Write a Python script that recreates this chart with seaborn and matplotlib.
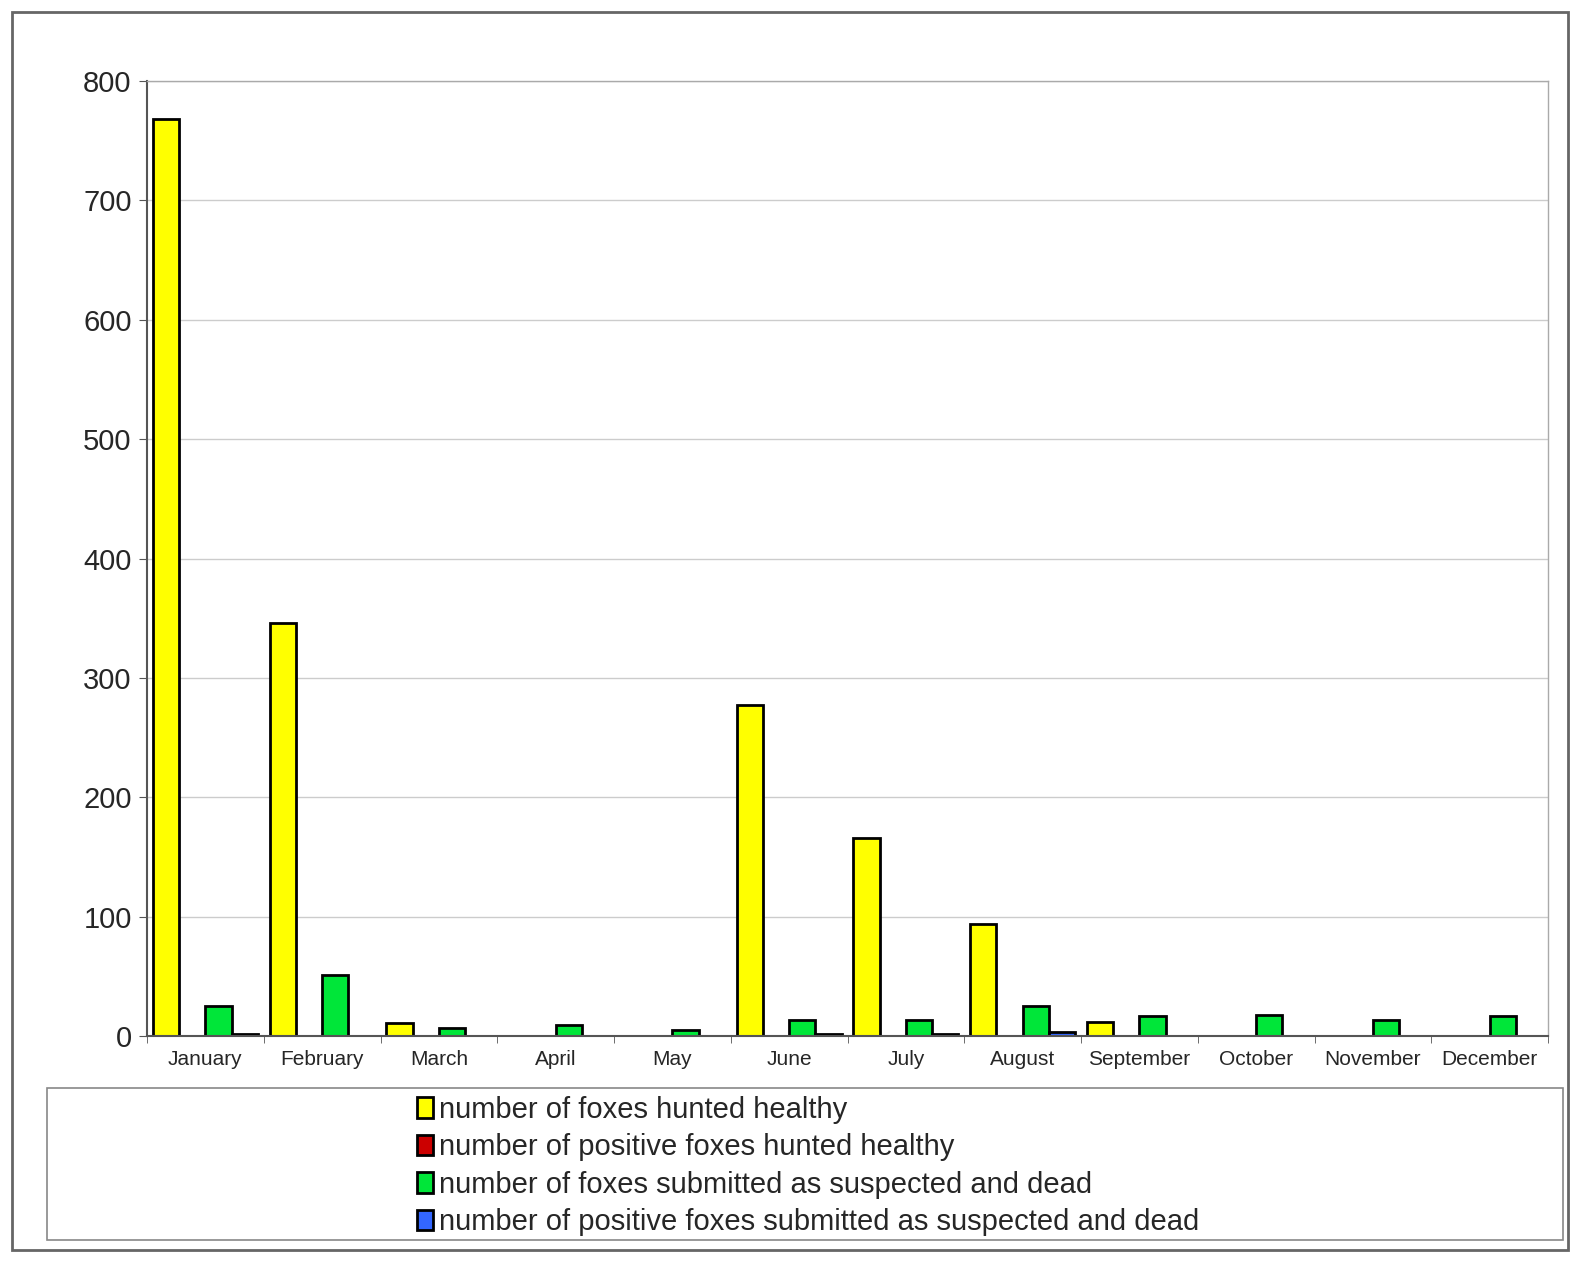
import numpy as np
import pandas as pd
import matplotlib.pyplot as plt
import seaborn as sns
from matplotlib.patches import Rectangle
from matplotlib.ticker import FixedLocator

months = ["January", "February", "March", "April", "May", "June", "July",
          "August", "September", "October", "November", "December"]
series = ["number of foxes hunted healthy",
          "number of positive foxes hunted healthy",
          "number of foxes submitted as suspected and dead",
          "number of positive foxes submitted as suspected and dead"]
hunted_healthy = [768, 346, 11, 0, 0, 277, 166, 94, 12, 0, 0, 0]
positive_hunted = [0, 0, 0, 0, 0, 0, 0, 0, 0, 0, 0, 0]
suspected_dead = [25, 51, 7, 9, 5, 13, 13, 25, 17, 18, 13, 17]
positive_suspected = [2, 0, 0, 0, 0, 2, 2, 3, 0, 0, 0, 0]
colors = ["#FFFF00", "#CC0000", "#00E639", "#3366FF"]

df = pd.DataFrame({"month": months * 4,
                   "series": np.repeat(series, 12),
                   "value": hunted_healthy + positive_hunted + suspected_dead + positive_suspected})

sns.set_style("white")
plt.rcParams['font.family'] = ['Liberation Sans', 'DejaVu Sans']

fig = plt.figure(figsize=(15.83, 12.65), dpi=100)
ax = fig.add_axes([147/1583, 1 - 1036/1265, (1548-147)/1583, (1036-81)/1265])

sns.barplot(data=df, x="month", y="value", hue="series", order=months,
            hue_order=series, palette=colors, width=0.9, edgecolor="black",
            linewidth=2, saturation=1, errorbar=None, ax=ax, legend=True)

ax.set_ylim(0, 800)
ax.set_xlim(-0.5, 11.5)
ax.set_yticks(range(0, 801, 100))
ax.yaxis.grid(True, color="#cccccc", linewidth=1)
ax.set_axisbelow(True)
ax.set_xlabel("")
ax.set_ylabel("")
ax.tick_params(axis="y", labelsize=21, length=6, left=True, color="#555555", pad=5)
ax.tick_params(axis="x", labelsize=15, length=0, pad=10)
ax.xaxis.set_minor_locator(FixedLocator(np.arange(-0.5, 12, 1)))
ax.tick_params(axis="x", which="minor", length=5, bottom=True, color="#555555")
for s in ["left", "bottom"]:
    ax.spines[s].set_color("#555555")
    ax.spines[s].set_linewidth(1.5)
for s in ["top", "right"]:
    ax.spines[s].set_color("#aaaaaa")
    ax.spines[s].set_linewidth(1)

handles, labels = ax.get_legend_handles_labels()
ax.get_legend().remove()
leg = fig.legend(handles, labels, loc="center", bbox_to_anchor=(808/1583, 1 - 1166/1265),
                 frameon=False, fontsize=21, handlelength=0.55, handleheight=0.7,
                 handletextpad=0.2, labelspacing=0.33, borderpad=0)

fig.patches.append(Rectangle((47/1583, 1 - 1240/1265), (1563-47)/1583, (1240-1088)/1265,
                             transform=fig.transFigure, fill=False,
                             edgecolor="#888888", linewidth=1.2))
fig.patches.append(Rectangle((12/1583, 1 - 1250/1265), (1568-12)/1583, (1250-12)/1265,
                             transform=fig.transFigure, fill=False,
                             edgecolor="#666666", linewidth=2))

plt.savefig("out.png", dpi=100)
